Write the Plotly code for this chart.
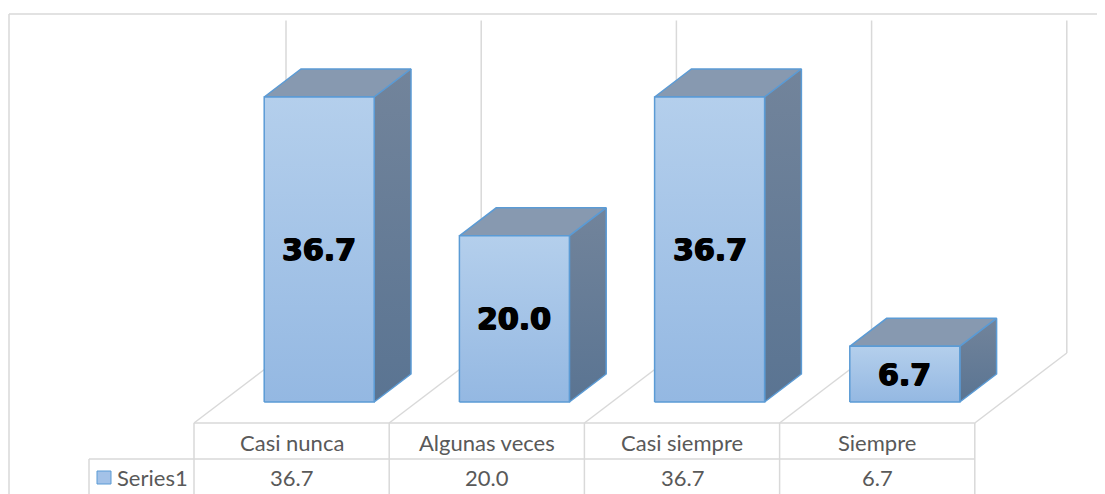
import plotly.graph_objects as go

# ---- datos ----
categories = ["Casi nunca", "Algunas veces", "Casi siempre", "Siempre"]
values = [36.7, 20.0, 36.7, 6.7]
series_name = "Series1"
axis_max = 40

# la pagina tiene 8px de margen en el body
OFF = 8
W, H = 1105 - OFF, 494 - OFF

# escala (px por unidad) y origen, en pixeles de la captura
PXX, X0PX = 195.2, 291.6
PXY, Y0PX = 8.31, 402.0

# proyeccion oblicua: profundidad 0 (frente) .. 1 (fondo)
DX = 92 / PXX
DY = 70 / PXY
D_FRONT, D_BACK = 0.3, 0.7
BAR_W = 110 / PXX

GRID = "#d9d9d9"
EDGE = "#5b9bd5"
TXT = "#595959"


def proj(x, v, d):
    return x + DX * d, v + DY * (d - D_FRONT)


def py(px):
    # pixel vertical -> unidad del eje y
    return (Y0PX - px) / PXY


def pxx(px):
    return (px - X0PX) / PXX


fig = go.Figure()

bounds = [i - 0.5 for i in range(len(categories) + 1)]

# ---- pared del fondo y piso ----
for b in bounds:
    x0, y0 = proj(b, 0, 1)
    x1, y1 = proj(b, axis_max, 1)
    fig.add_shape(type="line", x0=x0, y0=y0, x1=x1, y1=y1,
                  line=dict(color=GRID, width=1.5), layer="below")
    x2, y2 = proj(b, 0, 0)
    fig.add_shape(type="line", x0=x2, y0=y2, x1=x0, y1=y0,
                  line=dict(color=GRID, width=1.5), layer="below")


def face(pts, fill, grad=None):
    xs = [p[0] for p in pts] + [pts[0][0]]
    ys = [p[1] for p in pts] + [pts[0][1]]
    kw = dict(fillcolor=fill)
    if grad:
        kw = dict(fillgradient=dict(type="vertical", colorscale=grad))
    fig.add_trace(go.Scatter(
        x=xs, y=ys, mode="lines", fill="toself",
        line=dict(color=EDGE, width=1.5),
        hoverinfo="skip", showlegend=False, **kw
    ))


# ---- barras ----
for i, v in enumerate(values):
    xl, xr = i - BAR_W / 2, i + BAR_W / 2
    # cara superior
    face([proj(xl, v, D_FRONT), proj(xr, v, D_FRONT),
          proj(xr, v, D_BACK), proj(xl, v, D_BACK)], "#8799b0")
    # cara lateral
    face([proj(xr, 0, D_FRONT), proj(xr, 0, D_BACK),
          proj(xr, v, D_BACK), proj(xr, v, D_FRONT)], "#667a94",
         grad=[[0, "#5a7492"], [1, "#72849b"]])
    # cara frontal
    face([proj(xl, 0, D_FRONT), proj(xr, 0, D_FRONT),
          proj(xr, v, D_FRONT), proj(xl, v, D_FRONT)], "#a3c2e8",
         grad=[[0, "#94b8e2"], [1, "#b4cfec"]])
    cx, _ = proj(i, 0, D_FRONT)
    fig.add_annotation(x=cx, y=v / 2, text=f"{v:.1f}", showarrow=False,
                       font=dict(family="DejaVu Sans", size=30, color="black",
                                 weight="bold",
                                 shadow="0.8px 0 0 #000, -0.8px 0 0 #000, 0 0.6px 0 #000"))

# ---- tabla de datos ----
y_top = proj(0, 0, 0)[1]
y_mid = py(459)
y_bot = py(496)
x_leg = pxx(89)

fig.add_shape(type="line", x0=bounds[0], x1=bounds[-1], y0=y_top, y1=y_top,
              line=dict(color=GRID, width=1.5))
fig.add_shape(type="line", x0=x_leg, x1=bounds[-1], y0=y_mid, y1=y_mid,
              line=dict(color=GRID, width=1.5))
fig.add_shape(type="line", x0=x_leg, x1=x_leg, y0=y_mid, y1=y_bot,
              line=dict(color=GRID, width=1.5))
for b in bounds:
    fig.add_shape(type="line", x0=b, x1=b, y0=y_top, y1=y_bot,
                  line=dict(color=GRID, width=1.5))

for i, (c, v) in enumerate(zip(categories, values)):
    fig.add_annotation(x=i, y=py(442), text=c, showarrow=False,
                       font=dict(family="Lato", size=22, color=TXT))
    fig.add_annotation(x=i, y=py(477), text=f"{v:.1f}",
                       showarrow=False,
                       font=dict(family="Lato", size=22, color=TXT))

# leyenda en la tabla
fig.add_shape(type="rect", x0=pxx(97), x1=pxx(111), y0=py(484), y1=py(471),
              fillcolor="#a3c2e8", line=dict(color=EDGE, width=1))
fig.add_annotation(x=pxx(115), y=py(477), text=series_name,
                   xanchor="left", showarrow=False,
                   font=dict(family="Lato", size=22, color=TXT))

# ---- borde del grafico ----
fig.add_shape(type="line", x0=pxx(9), x1=pxx(1105), y0=py(14), y1=py(14),
              line=dict(color=GRID, width=1.5))
fig.add_shape(type="line", x0=pxx(9), x1=pxx(9), y0=py(14), y1=py(496),
              line=dict(color=GRID, width=1.5))

fig.update_layout(
    width=W, height=H,
    margin=dict(l=0, r=0, t=0, b=0),
    paper_bgcolor="white", plot_bgcolor="white",
    xaxis=dict(range=[pxx(OFF), pxx(OFF + W)], visible=False, fixedrange=True),
    yaxis=dict(range=[py(OFF + H), py(OFF)], visible=False, fixedrange=True),
    showlegend=False,
)

fig.write_html("out.html")
